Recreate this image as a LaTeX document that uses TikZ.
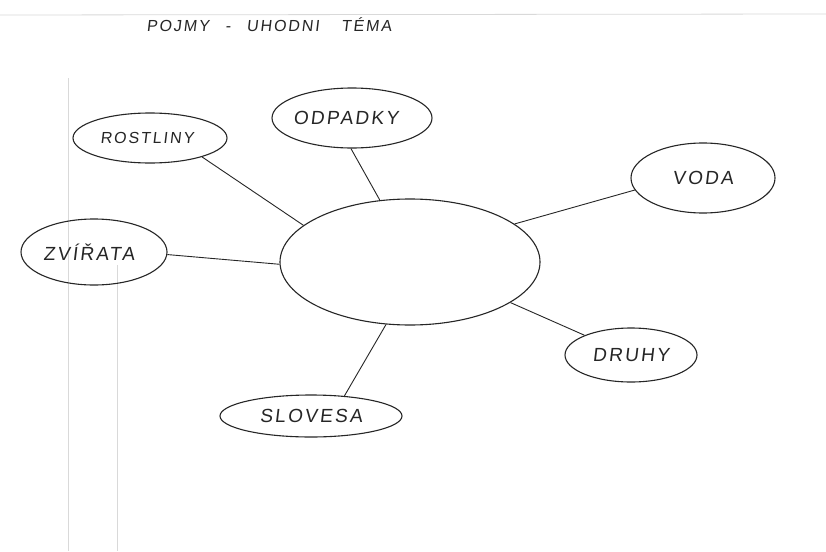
\documentclass[tikz,border=0pt]{standalone}
\usepackage{fontspec}
\usetikzlibrary{shapes.geometric}
\newfontfamily\hand[FakeSlant=0.12,LetterSpace=12]{Liberation Sans}
\tikzset{
  bubble/.style={ellipse, draw=black!85, line width=1.1pt, inner sep=0pt, font=\hand\fontsize{19}{19}\selectfont, text=black!85},
  link/.style={draw=black!85, line width=0.9pt},
  faint/.style={draw=black!15, line width=0.8pt}
}
\begin{document}
\begin{tikzpicture}[x=1pt,y=-1pt]
\useasboundingbox (0,0) rectangle (826,551);
\fill[white] (0,0) rectangle (826,551);
% faint paper lines
\draw[faint] (0,15) -- (826,14);
\draw[faint] (68,78) -- (68,551);
\draw[faint] (117,265) -- (117,551);
% title
\node[font=\hand\fontsize{16}{16}\selectfont, text=black!85, anchor=west] (title) at (143,25) {POJMY\hspace{16pt}-\hspace{16pt}UHODNI\hspace{22pt}TÉMA};
% central
\node[bubble, minimum width=260pt, minimum height=126pt] (cen) at (410,262) {};
% satellites
\node[bubble, minimum width=160pt, minimum height=60pt, text depth=0pt] (odp) at (352,118) {\hspace{-12pt}ODPADKY};
\node[bubble, minimum width=154pt, minimum height=50pt, font=\hand\fontsize{16}{16}\selectfont] (ros) at (150,138) {\hspace{-6pt}ROSTLINY};
\node[bubble, minimum width=146pt, minimum height=66pt] (zvi) at (94,252) {\hspace{-10pt}ZVÍŘATA};
\node[bubble, minimum width=144pt, minimum height=70pt] (vod) at (703,178) {VODA};
\node[bubble, minimum width=132pt, minimum height=54pt] (dru) at (631,355) {DRUHY};
\node[bubble, minimum width=182pt, minimum height=42pt] (slo) at (311,416) {SLOVESA};
% connectors
\draw[link] (odp.-92) -- (cen.116);
\draw[link] (ros.-20) -- (cen.161);
\draw[link] (zvi.-2) -- (cen.181);
\draw[link] (vod.-170) -- (cen.20);
\draw[link] (dru.157) -- (cen.-22);
\draw[link] (slo.31) -- (cen.-111);
\end{tikzpicture}
\end{document}
